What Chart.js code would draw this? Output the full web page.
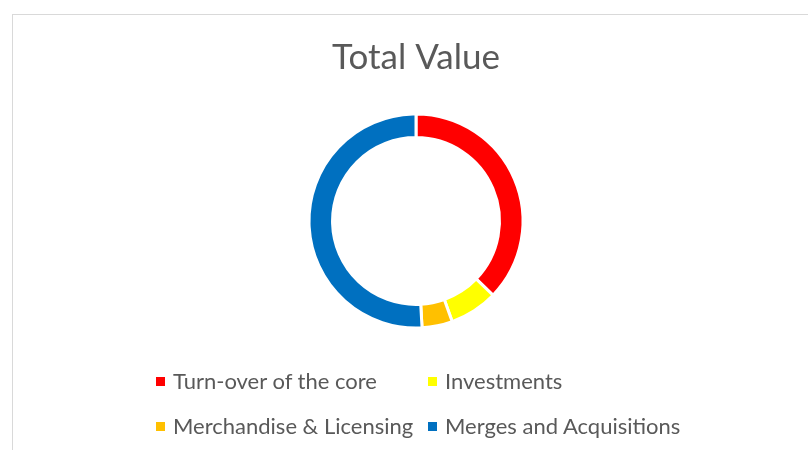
<!DOCTYPE html>
<html>
<head>
<meta charset="utf-8">
<script src="https://cdn.jsdelivr.net/npm/chart.js@4/dist/chart.umd.min.js"></script>
<style>
    html, body { margin: 0; padding: 0; background: #fff; }
    #wrap { position: relative; width: 808px; height: 450px; overflow: hidden; }
    #frame { position: absolute; left: 12px; top: 14px; width: 900px; height: 500px;
             border-top: 1px solid #d9d9d9; border-left: 1px solid #d9d9d9; }
    canvas { position: absolute; left: 0; top: 0; }
    .leg { position: absolute; font-family: Lato, sans-serif; font-size: 22px; color: #595959;
           white-space: nowrap; line-height: 22px; }
    .leg i { position: absolute; left: 0; top: 7px; width: 9px; height: 9px; }
    .leg span { position: absolute; left: 17px; top: 0; }
</style>
</head>
<body>
<div id="wrap">
    <div id="frame"></div>
    <canvas id="donut" width="808" height="450"></canvas>
</div>
<script>
const labels = ['Turn-over of the core', 'Investments', 'Merchandise & Licensing', 'Merges and Acquisitions'];
const values = [37.2, 7.3, 4.6, 50.9];
const colors = ['#FF0000', '#FFFF00', '#FFC000', '#0070C0'];

// legend slots: [left, top] for each item (2 columns)
const legendPos = [[156, 370], [428, 370], [156, 415], [428, 415]];

const chart = new Chart(document.getElementById('donut').getContext('2d'), {
    type: 'doughnut',
    data: {
        labels,
        datasets: [{
            data: values,
            backgroundColor: colors,
            borderColor: '#ffffff',
            borderWidth: 3
        }]
    },
    options: {
        responsive: false,
        animation: false,
        radius: 107,
        cutout: '78%',
        layout: { padding: { left: 24, right: 0, top: 0, bottom: 94 } },
        plugins: {
            legend: { display: false },
            tooltip: { enabled: false },
            title: {
                display: true,
                text: 'Total Value',
                color: '#595959',
                font: { family: 'Lato', size: 35, weight: 'normal' },
                padding: { top: 37, bottom: 7 }
            }
        }
    }
});

// html legend in two aligned columns
chart.legend.legendItems = chart.options.plugins.legend.labels.generateLabels(chart);
chart.legend.legendItems.forEach((item, i) => {
    const el = document.createElement('div');
    el.className = 'leg';
    el.style.left = legendPos[i][0] + 'px';
    el.style.top = legendPos[i][1] + 'px';
    el.innerHTML = '<i style="background:' + item.fillStyle + '"></i><span></span>';
    el.querySelector('span').textContent = item.text;
    document.getElementById('wrap').appendChild(el);
});
</script>
</body>
</html>
